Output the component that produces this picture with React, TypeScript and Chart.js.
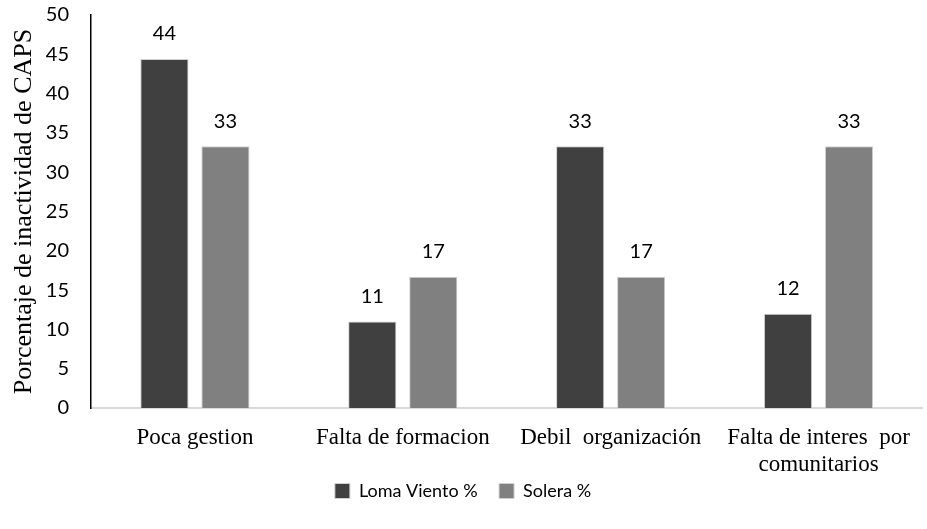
import React, { useEffect, useRef } from "react";
import { Chart, registerables } from "chart.js";

Chart.register(...registerables);

const categories: (string | string[])[] = [
  "Poca gestion",
  "Falta de formacion",
  "Debil  organización",
  ["Falta de interes  por", "comunitarios"],
];
const lomaViento = [44.4, 11, 33.3, 12];
const solera = [33.3, 16.7, 16.7, 33.3];
const seriesNames = ["Loma Viento %", "Solera %"];
const yTitle = "Porcentaje de inactividad de CAPS";

const valueLabels = {
  id: "valueLabels",
  afterDatasetsDraw(chart: any) {
    const ctx = chart.ctx;
    ctx.save();
    ctx.font = "20px Lato, 'Open Sans', sans-serif";
    ctx.fillStyle = "#000";
    ctx.textAlign = "center";
    ctx.textBaseline = "middle";
    chart.data.datasets.forEach((ds: any, i: number) => {
      const meta = chart.getDatasetMeta(i);
      meta.data.forEach((bar: any, j: number) => {
        const v = ds.data[j];
        ctx.fillText(String(Math.round(v)), bar.x, bar.y - 25);
      });
    });
    ctx.restore();
  },
};

export default function App() {
  const ref = useRef<HTMLCanvasElement>(null);
  useEffect(() => {
    document.body.style.margin = "0";
    const chart = new Chart(ref.current!, {
      type: "bar",
      data: {
        labels: categories,
        datasets: [
          {
            label: seriesNames[0],
            data: lomaViento,
            backgroundColor: "#404040",
            borderColor: "#d0d0d0",
            borderWidth: 1,
            categoryPercentage: 0.587,
            barPercentage: 0.79,
          },
          {
            label: seriesNames[1],
            data: solera,
            backgroundColor: "#808080",
            borderColor: "#d0d0d0",
            borderWidth: 1,
            categoryPercentage: 0.587,
            barPercentage: 0.79,
          },
        ],
      },
      options: {
        animation: false,
        responsive: false,
        maintainAspectRatio: false,
        layout: { padding: { top: 15, right: 1, bottom: 19, left: 0 } },
        plugins: {
          tooltip: { enabled: false },
          legend: {
            position: "bottom",
            labels: {
              boxWidth: 15,
              boxHeight: 15,
              padding: 3,
              color: "#000",
              font: { family: "Lato, 'Open Sans', sans-serif", size: 18 },
              generateLabels(c: any) {
                const items = (Chart as any).defaults.plugins.legend.labels.generateLabels(c);
                items.forEach((it: any, i: number) => {
                  if (i < items.length - 1) it.text = it.text + "    ";
                });
                return items;
              },
            },
          },
        },
        scales: {
          x: {
            grid: { display: false, drawTicks: false },
            border: { display: true, color: "#d9d9d9", width: 2 },
            ticks: {
              color: "#000",
              padding: 17,
              maxRotation: 0,
              autoSkip: false,
              font: { family: "'Liberation Serif', 'Times New Roman', serif", size: 23, lineHeight: 1.15 },
            },
            afterFit(scale: any) {
              scale.height = 71;
            },
          },
          y: {
            min: 0,
            max: 50,
            grid: { display: false, drawTicks: false },
            border: { display: true, color: "#000", width: 1.5 },
            ticks: {
              stepSize: 5,
              color: "#000",
              padding: 22,
              font: { family: "Lato, 'Open Sans', sans-serif", size: 20 },
            },
            title: {
              display: true,
              text: yTitle,
              color: "#000",
              padding: { top: 9, bottom: 0 },
              font: { family: "'Liberation Serif', 'Times New Roman', serif", size: 26 },
            },
            afterFit(scale: any) {
              scale.width = 91;
              scale.paddingTop = 0;
              scale.paddingBottom = 0;
            },
          },
        },
      },
      plugins: [valueLabels],
    });
    return () => chart.destroy();
  }, []);
  return (
    <div style={{ position: "absolute", left: 0, top: 0, width: 927, height: 529 }}>
      <canvas ref={ref} width={927} height={529} />
    </div>
  );
}
